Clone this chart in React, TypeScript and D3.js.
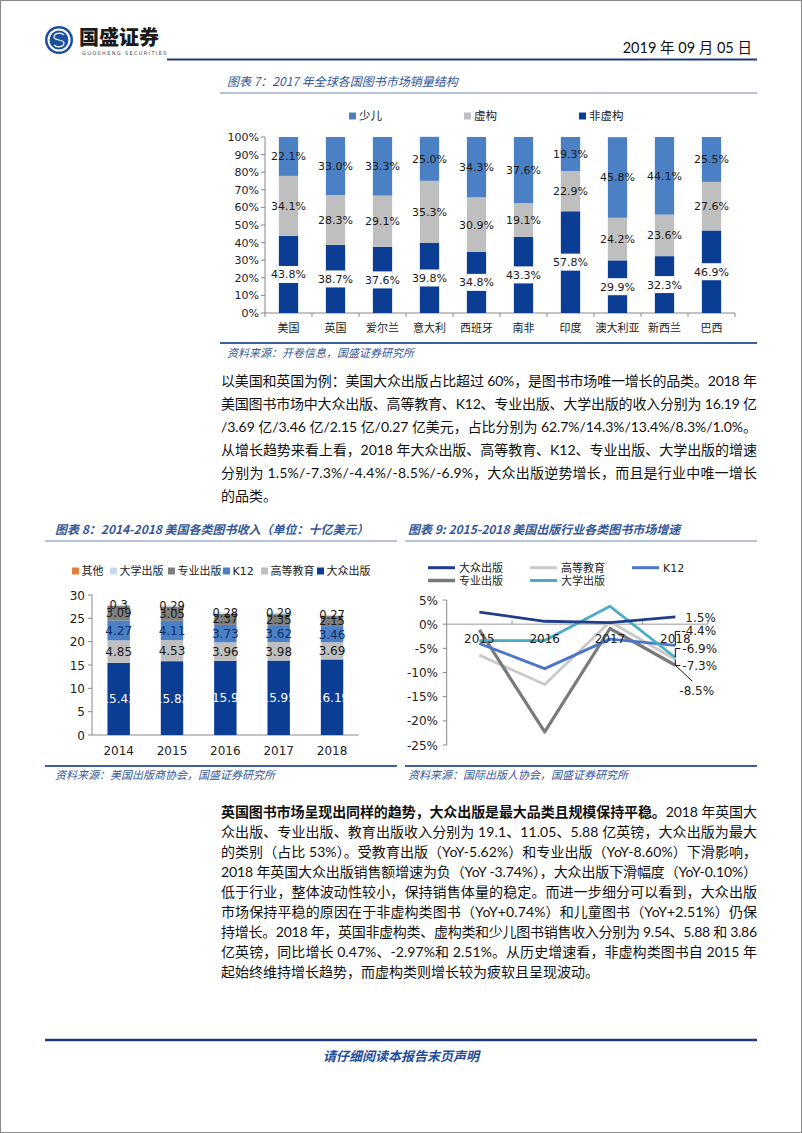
import React from 'react';
import * as d3 from 'd3';

// ---------- Chart 7 data ----------
const countries = ['美国', '英国', '爱尔兰', '意大利', '西班牙', '南非', '印度', '澳大利亚', '新西兰', '巴西'];
const nonFiction = [43.8, 38.7, 37.6, 39.8, 34.8, 43.3, 57.8, 29.9, 32.3, 46.9];
const fiction = [34.1, 28.3, 29.1, 35.3, 30.9, 19.1, 22.9, 24.2, 23.6, 27.6];
const children = [22.1, 33.0, 33.3, 25.0, 34.3, 37.6, 19.3, 45.8, 44.1, 25.5];
const pctTicks = [0, 10, 20, 30, 40, 50, 60, 70, 80, 90, 100];
const legend7 = ['少儿', '虚构', '非虚构'];

// ---------- Chart 8 data ----------
const years8 = ['2014', '2015', '2016', '2017', '2018'];
const trade = [15.43, 15.82, 15.9, 15.95, 16.19];
const higherEd = [4.85, 4.53, 3.96, 3.98, 3.69];
const k12 = [4.27, 4.11, 3.73, 3.62, 3.46];
const professional = [3.09, 3.05, 2.37, 2.35, 2.15];
const university = [0.3, 0.29, 0.28, 0.29, 0.27];
const other = [0, 0, 0, 0, 0];
const ticks8 = [0, 5, 10, 15, 20, 25, 30];
const legend8 = ['其他', '大学出版', '专业出版', 'K12', '高等教育', '大众出版'];

// ---------- Chart 9 data ----------
const years9 = ['2015', '2016', '2017', '2018'];
const gTrade = [2.5, 0.6, 0.3, 1.5];
const gHigher = [-6.4, -12.5, 0.5, -7.3];
const gK12 = [-4.0, -9.2, -3.1, -4.4];
const gProf = [-1.2, -22.3, -0.9, -8.5];
const gUniv = [-3.4, -3.4, 3.7, -6.9];
const ticks9 = [5, 0, -5, -10, -15, -20, -25];

// ---------- Text ----------
const para1 = [
  '以美国和英国为例：美国大众出版占比超过 60%，是图书市场唯一增长的品类。2018 年',
  '美国图书市场中大众出版、高等教育、K12、专业出版、大学出版的收入分别为 16.19 亿',
  '/3.69 亿/3.46 亿/2.15 亿/0.27 亿美元，占比分别为 62.7%/14.3%/13.4%/8.3%/1.0%。',
  '从增长趋势来看上看，2018 年大众出版、高等教育、K12、专业出版、大学出版的增速',
  '分别为 1.5%/-7.3%/-4.4%/-8.5%/-6.9%，大众出版逆势增长，而且是行业中唯一增长',
  '的品类。',
];
const para2Bold = '英国图书市场呈现出同样的趋势，大众出版是最大品类且规模保持平稳。';
const para2 = [
  '2018 年英国大',
  '众出版、专业出版、教育出版收入分别为 19.1、11.05、5.88 亿英镑，大众出版为最大',
  '的类别（占比 53%）。受教育出版（YoY-5.62%）和专业出版（YoY-8.60%）下滑影响，',
  '2018 年英国大众出版销售额增速为负（YoY -3.74%），大众出版下滑幅度（YoY-0.10%）',
  '低于行业，整体波动性较小，保持销售体量的稳定。而进一步细分可以看到，大众出版',
  '市场保持平稳的原因在于非虚构类图书（YoY+0.74%）和儿童图书（YoY+2.51%）仍保',
  '持增长。2018 年，英国非虚构类、虚构类和少儿图书销售收入分别为 9.54、5.88 和 3.86',
  '亿英镑，同比增长 0.47%、-2.97%和 2.51%。从历史增速看，非虚构类图书自 2015 年',
  '起始终维持增长趋势，而虚构类则增长较为疲软且呈现波动。',
];

const CJK = "'Noto Sans CJK SC', sans-serif";
const NUM = "'DejaVu Sans', 'Noto Sans CJK SC', sans-serif";
const PARA = "Lato, 'Noto Sans CJK SC', sans-serif";
const NAVY = '#1F3A7A';
const TITLE = '#34589a';

function Chart7() {
  const x = d3.scaleBand<string>().domain(countries).range([265, 735]);
  const y = d3.scaleLinear().domain([0, 100]).range([313, 137]);
  const rows = countries.map((c, i) => ({ c, nf: nonFiction[i], f: fiction[i], ch: children[i] }));
  const stack = d3.stack<any>().keys(['nf', 'f', 'ch'])(rows);
  const colors: Record<string, string> = { nf: '#0B3D94', f: '#BFBFBF', ch: '#4C80C4' };
  const legendColors = ['#4C80C4', '#BFBFBF', '#0B3D94'];
  const bw = x.step() * 0.41;
  return (
    <g>
      {legend7.map((t, i) => (
        <g key={t}>
          <rect x={349 + i * 115} y={112.5} width={7} height={7} fill={legendColors[i]} />
          <text x={359 + i * 115} y={120} fontSize={11.5} fontFamily={CJK} fill="#222">{t}</text>
        </g>
      ))}
      {pctTicks.map((t) => (
        <g key={t}>
          <line x1={261} x2={265} y1={y(t)} y2={y(t)} stroke="#888" />
          <text x={259} y={y(t) + 4} textAnchor="end" fontSize={11} fontFamily={NUM} fill="#222">{t}%</text>
        </g>
      ))}
      <line x1={265} x2={265} y1={137} y2={313} stroke="#888" />
      <line x1={265} x2={735} y1={313} y2={313} stroke="#888" />
      {countries.map((c, i) => (
        <line key={c} x1={265 + x.step() * (i + 1)} x2={265 + x.step() * (i + 1)} y1={313} y2={317} stroke="#888" />
      ))}
      <line x1={265} x2={265} y1={313} y2={317} stroke="#888" />
      {stack.map((s) => (
        <g key={s.key}>
          {s.map((d: any, i: number) => {
            const cx = (x(countries[i]) as number) + x.bandwidth() / 2;
            const y0 = y(d[0]);
            const y1 = y(d[1]);
            const v = d[1] - d[0];
            const ly = (y0 + y1) / 2;
            return (
              <g key={i}>
                <rect x={cx - bw / 2} y={y1} width={bw} height={y0 - y1} fill={colors[s.key]} />
                {s.key === 'nf' && <rect x={cx - bw / 2} y={ly - 8.5} width={bw} height={17} fill="#fff" />}
                <text x={cx} y={ly + 4} textAnchor="middle" fontSize={11} fontFamily={NUM} fill="#1a1a1a">{v.toFixed(1)}%</text>
              </g>
            );
          })}
        </g>
      ))}
      {countries.map((c) => (
        <text key={c} x={(x(c) as number) + x.bandwidth() / 2} y={332} textAnchor="middle" fontSize={11} fontFamily={CJK} fill="#222">{c}</text>
      ))}
    </g>
  );
}

function Chart8() {
  const x = d3.scaleBand<string>().domain(years8).range([92, 358.7]);
  const y = d3.scaleLinear().domain([0, 30]).range([735, 595]);
  const keys = ['trade', 'higher', 'k12', 'prof', 'univ', 'other'];
  const rows = years8.map((yr, i) => ({
    yr, trade: trade[i], higher: higherEd[i], k12: k12[i], prof: professional[i], univ: university[i], other: other[i],
  }));
  const stack = d3.stack<any>().keys(keys)(rows);
  const colors: Record<string, string> = {
    trade: '#0B3D94', higher: '#BFBFBF', k12: '#4C80C4', prof: '#7F7F7F', univ: '#C6D9F1', other: '#E1803C',
  };
  const textColors: Record<string, string> = {
    trade: '#ffffff', higher: '#1a1a1a', k12: '#0B2D6B', prof: '#1a1a1a', univ: '#1a1a1a', other: '#1a1a1a',
  };
  const legendKeys = ['other', 'univ', 'prof', 'k12', 'higher', 'trade'];
  const legendX = [72, 110, 168, 223, 261, 317];
  const bw = x.step() * 0.42;
  return (
    <g>
      {legend8.map((t, i) => (
        <g key={t}>
          <rect x={legendX[i]} y={567.5} width={7} height={7} fill={colors[legendKeys[i]]} />
          <text x={legendX[i] + 9.5} y={575} fontSize={11} fontFamily={t === 'K12' ? NUM : CJK} fill="#222">{t}</text>
        </g>
      ))}
      {ticks8.map((t) => (
        <g key={t}>
          <line x1={88} x2={92} y1={y(t)} y2={y(t)} stroke="#888" />
          <text x={85} y={y(t) + 4.5} textAnchor="end" fontSize={12} fontFamily={NUM} fill="#222">{t}</text>
        </g>
      ))}
      <line x1={92} x2={92} y1={595} y2={735} stroke="#888" />
      <line x1={92} x2={358.7} y1={735} y2={735} stroke="#888" />
      {stack.map((s) => (
        <g key={s.key}>
          {s.map((d: any, i: number) => {
            const cx = (x(years8[i]) as number) + x.bandwidth() / 2;
            const y0 = y(d[0]);
            const y1 = y(d[1]);
            const v = d[1] - d[0];
            if (v <= 0) return null;
            return (
              <g key={i}>
                <rect x={cx - bw / 2} y={y1} width={bw} height={y0 - y1} fill={colors[s.key]} />
              </g>
            );
          })}
        </g>
      ))}
      {stack.map((s) => (
        <g key={s.key + 'l'}>
          {s.map((d: any, i: number) => {
            const cx = (x(years8[i]) as number) + x.bandwidth() / 2;
            const v = d[1] - d[0];
            if (v <= 0) return null;
            const ly = (y(d[0]) + y(d[1])) / 2;
            const small = s.key === 'univ' || s.key === 'prof';
            return (
              <text key={i} x={cx} y={ly + (small ? 4 : 4.5)} textAnchor="middle" fontSize={small ? 11.5 : 12} fontFamily={NUM} fill={textColors[s.key]}>
                {String(+v.toFixed(2))}
              </text>
            );
          })}
        </g>
      ))}
      {years8.map((yr) => (
        <text key={yr} x={(x(yr) as number) + x.bandwidth() / 2} y={754.5} textAnchor="middle" fontSize={12} fontFamily={NUM} fill="#222">{yr}</text>
      ))}
    </g>
  );
}

function Chart9() {
  const x = d3.scaleBand<string>().domain(years9).range([446.7, 708]);
  const y = d3.scaleLinear().domain([5, -25]).range([600, 745]);
  const cx = (d: string) => (x(d) as number) + x.bandwidth() / 2;
  const series = [
    { name: '高等教育', vals: gHigher, color: '#C9C9C9', w: 2.8 },
    { name: '专业出版', vals: gProf, color: '#7A7A7A', w: 3.2 },
    { name: 'K12', vals: gK12, color: '#4A76C9', w: 2.8 },
    { name: '大学出版', vals: gUniv, color: '#4BACC6', w: 2.8 },
    { name: '大众出版', vals: gTrade, color: '#1F3E8A', w: 2.8 },
  ];
  const line = d3.line<number>().x((_, i) => cx(years9[i])).y((v) => y(v));
  const legendItems = [
    { name: '大众出版', lx: 428, ly: 567.7 },
    { name: '高等教育', lx: 530, ly: 567.7 },
    { name: 'K12', lx: 632, ly: 567.7 },
    { name: '专业出版', lx: 428, ly: 580.5 },
    { name: '大学出版', lx: 530, ly: 580.5 },
  ];
  const byName = (n: string) => series.find((s) => s.name === n)!;
  const last = cx(years9[3]);
  const lab = (v: number) => v.toFixed(1) + '%';
  return (
    <g>
      {legendItems.map((l) => {
        const s = byName(l.name);
        return (
          <g key={l.name}>
            <line x1={l.lx} x2={l.lx + 27} y1={l.ly} y2={l.ly} stroke={s.color} strokeWidth={s.name === '专业出版' ? 3.5 : 3} />
            <text x={l.lx + 31} y={l.ly + 4} fontSize={11} fontFamily={l.name === 'K12' ? NUM : CJK} fill="#222">{l.name}</text>
          </g>
        );
      })}
      {ticks9.map((t) => (
        <g key={t}>
          <line x1={442.7} x2={446.7} y1={y(t)} y2={y(t)} stroke="#888" />
          <text x={438} y={y(t) + 4.5} textAnchor="end" fontSize={12} fontFamily={NUM} fill="#222">{t}%</text>
        </g>
      ))}
      <line x1={446.7} x2={446.7} y1={600} y2={745} stroke="#888" />
      <line x1={446.7} x2={708} y1={y(0)} y2={y(0)} stroke="#999" />
      {years9.map((yr) => (
        <line key={yr} x1={(x(yr) as number) + x.step()} x2={(x(yr) as number) + x.step()} y1={y(0)} y2={y(0) - 4} stroke="#999" />
      ))}
      {series.map((s) => (
        <path key={s.name} d={line(s.vals) as string} fill="none" stroke={s.color} strokeWidth={s.w} strokeLinejoin="round" />
      ))}
      {years9.map((yr) => (
        <text key={yr} x={cx(yr)} y={642.5} textAnchor="middle" fontSize={12} fontFamily={NUM} fill="#222">{yr}</text>
      ))}
      {/* data labels for 2018 */}
      <text x={last + 10} y={y(gTrade[3]) + 5} fontSize={12} fontFamily={NUM} fill="#222">{lab(gTrade[3])}</text>
      <path d={`M${last},${y(gK12[3])} V${y(gK12[3]) - 14} H${last + 5}`} fill="none" stroke="#111" strokeWidth={1} />
      <text x={last + 6} y={y(gK12[3]) - 10} fontSize={12} fontFamily={NUM} fill="#222">{lab(gK12[3])}</text>
      <path d={`M${last},${y(gUniv[3])} V${y(gUniv[3]) - 9} H${last + 5}`} fill="none" stroke="#111" strokeWidth={1} />
      <text x={last + 7} y={y(gUniv[3]) - 5} fontSize={12} fontFamily={NUM} fill="#222">{lab(gUniv[3])}</text>
      <path d={`M${last},${y(gHigher[3])} V${y(gHigher[3]) + 6} H${last + 5}`} fill="none" stroke="#111" strokeWidth={1} />
      <text x={last + 7} y={y(gHigher[3]) + 11} fontSize={12} fontFamily={NUM} fill="#222">{lab(gHigher[3])}</text>
      <path d={`M${last},${y(gProf[3])} L${last + 17},${y(gProf[3]) + 16}`} fill="none" stroke="#111" strokeWidth={1} />
      <text x={last + 4} y={y(gProf[3]) + 30} fontSize={12} fontFamily={NUM} fill="#222">{lab(gProf[3])}</text>
    </g>
  );
}

function Logo() {
  return (
    <g>
      <circle cx={59} cy={40} r={14} fill="#1C4FA0" />
      <circle cx={59} cy={40} r={10.5} fill="none" stroke="#fff" strokeWidth={2} />
      <path d="M64,35 C61,32 54,33 54,37 C54,41 64,39 64,43 C64,47 57,48 54,45" fill="none" stroke="#1C4FA0" strokeWidth={3.5} />
      <path d="M64,35 C61,32 54,33 54,37 C54,41 64,39 64,43 C64,47 57,48 54,45" fill="none" stroke="#fff" strokeWidth={1.2} />
      <text x={79} y={45} fontSize={20} fontWeight={900} fontFamily={CJK} fill="#1a1a1a">国盛证券</text>
      <text x={82} y={54.5} fontSize={5} fontFamily={NUM} fill="#444" letterSpacing={1.35}>GUOSHENG SECURITIES</text>
    </g>
  );
}

export default function App() {
  const pX = 221;
  const pW = 536;
  return (
    <svg width={802} height={1133} style={{ position: 'absolute', left: 0, top: 0, background: '#fff' }}>
      <rect x={0.5} y={0.5} width={801} height={1132} fill="#fff" stroke="#8a8a8a" />
      <Logo />
      <text x={752} y={53} textAnchor="end" fontSize={14.5} fontFamily={PARA} fill="#111">2019 年 09 月 05 日</text>
      <line x1={167} x2={757} y1={59.5} y2={59.5} stroke={NAVY} strokeWidth={2.2} />

      {/* Chart 7 */}
      <text x={227} y={86} fontSize={12} fontStyle="italic" fontFamily={CJK} fill={TITLE}>图表 7：2017 年全球各国图书市场销量结构</text>
      <line x1={220} x2={757} y1={93} y2={93} stroke="#6f88b8" strokeWidth={1} />
      <Chart7 />
      <line x1={220} x2={757} y1={343} y2={343} stroke="#3d5f9c" strokeWidth={2} />
      <text x={227} y={357} fontSize={11} fontStyle="italic" fontFamily={CJK} fill={TITLE}>资料来源：开卷信息，国盛证券研究所</text>

      {/* Paragraph 1 */}
      {para1.map((t, i) => (
        <text key={i} x={pX} y={386 + i * 23} fontSize={14} fontFamily={PARA} fill="#111"
          {...(i < para1.length - 1 ? { textLength: pW, lengthAdjust: 'spacing' } : {})}>{t}</text>
      ))}

      {/* Chart 8 */}
      <text x={55} y={534} fontSize={12} fontStyle="italic" fontWeight={700} fontFamily={CJK} fill={TITLE}>图表 8：2014-2018 美国各类图书收入（单位：十亿美元）</text>
      <line x1={45} x2={397} y1={541} y2={541} stroke="#6f88b8" strokeWidth={1.2} />
      <Chart8 />
      <line x1={45} x2={397} y1={766} y2={766} stroke="#3d5f9c" strokeWidth={2} />
      <text x={55} y={779} fontSize={11} fontStyle="italic" fontFamily={CJK} fill={TITLE}>资料来源：美国出版商协会，国盛证券研究所</text>

      {/* Chart 9 */}
      <text x={408} y={534} fontSize={12} fontStyle="italic" fontWeight={700} fontFamily={CJK} fill={TITLE}>图表 9:   2015-2018 美国出版行业各类图书市场增速</text>
      <line x1={405} x2={757} y1={541} y2={541} stroke="#6f88b8" strokeWidth={1.2} />
      <Chart9 />
      <line x1={405} x2={757} y1={766} y2={766} stroke="#3d5f9c" strokeWidth={2} />
      <text x={408} y={779} fontSize={11} fontStyle="italic" fontFamily={CJK} fill={TITLE}>资料来源：国际出版人协会，国盛证券研究所</text>

      {/* Paragraph 2 */}
      <text x={pX} y={817} fontSize={14} fontFamily={PARA} fill="#111" textLength={pW} lengthAdjust="spacing">
        <tspan fontWeight={700}>{para2Bold}</tspan>
        <tspan>{para2[0]}</tspan>
      </text>
      {para2.slice(1).map((t, i) => (
        <text key={i} x={pX} y={817 + (i + 1) * 20} fontSize={14} fontFamily={PARA} fill="#111"
          {...(i < para2.length - 2 ? { textLength: pW, lengthAdjust: 'spacing' } : {})}>{t}</text>
      ))}

      {/* Footer */}
      <line x1={45} x2={757} y1={1040} y2={1040} stroke={NAVY} strokeWidth={2.5} />
      <text x={401} y={1061} textAnchor="middle" fontSize={13} fontStyle="italic" fontWeight={700} fontFamily={CJK} fill="#1F4C9A">请仔细阅读本报告末页声明</text>
    </svg>
  );
}
